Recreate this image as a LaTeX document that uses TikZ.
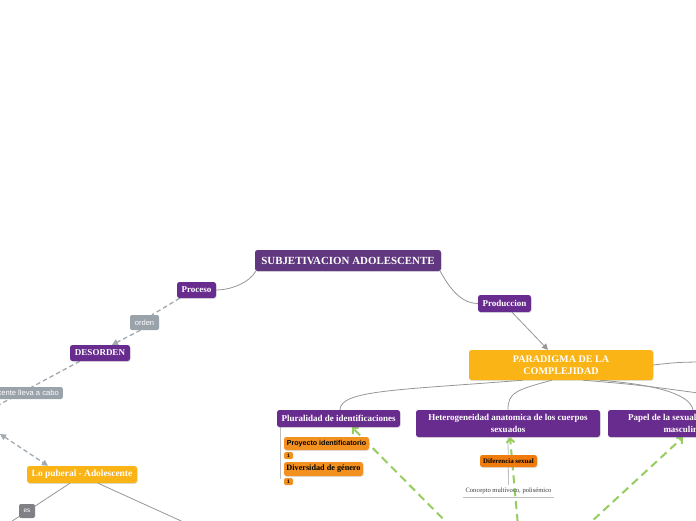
\documentclass[tikz,border=0pt]{standalone}
\usepackage{fontspec}
\setmainfont{Liberation Serif}
\setsansfont{Liberation Sans}
\usetikzlibrary{arrows.meta,shadows,backgrounds}
\definecolor{subjc}{RGB}{97,56,128}
\definecolor{purp}{RGB}{104,44,142}
\definecolor{amber}{RGB}{250,180,22}
\definecolor{orng}{RGB}{243,145,32}
\definecolor{orng2}{RGB}{240,124,14}
\definecolor{lblgray}{RGB}{154,162,170}
\definecolor{esgray}{RGB}{128,128,134}
\definecolor{linegray}{RGB}{150,150,150}
\definecolor{dashgray}{RGB}{160,168,176}
\definecolor{grn}{RGB}{150,205,95}
\definecolor{txtgray}{RGB}{60,60,60}
\begin{document}
\begin{tikzpicture}[x=1pt,y=-1pt,
  box/.style={rounded corners=2.5pt, inner sep=0pt, align=center,
    drop shadow={shadow xshift=0.6pt,shadow yshift=-0.9pt,opacity=0.25}},
  topic/.style={box, fill=purp, text=white, font=\bfseries\fontsize{9}{12}\selectfont},
  mainbox/.style={box, fill=amber, text=white, font=\bfseries\fontsize{10.1}{12.5}\selectfont},
  lbl/.style={rounded corners=2pt, fill=lblgray, text=white, inner sep=0pt,
    font=\sffamily\fontsize{7.6}{9}\selectfont},
  subbox/.style={box, fill=orng, text=black},
  badge/.style={rounded corners=1.5pt, fill=orng, text=black, inner sep=0pt,
    minimum width=9pt, minimum height=7pt, font=\sffamily\bfseries\fontsize{5}{5}\selectfont},
  conn/.style={draw=linegray, line width=0.8pt},
  dconn/.style={draw=dashgray, line width=1.3pt, dash pattern=on 4.5pt off 3pt},
  gconn/.style={draw=grn, line width=2pt, dash pattern=on 8pt off 5pt},
  gtip/.style={-{Straight Barb[length=4pt,width=8pt]}},
  ttip/.style={-{Triangle[length=6pt,width=6pt]}}
]
\useasboundingbox (0,0) rectangle (696,520);
\clip (0,0) rectangle (696,520);

% nodes
\node[box, fill=subjc, text=white, font=\bfseries\fontsize{10.9}{12}\selectfont,
  minimum width=186pt, minimum height=21pt] (subj) at (348,260.5) {SUBJETIVACION ADOLESCENTE};
\node[topic, minimum width=39pt, minimum height=16pt] (proceso) at (196.5,290) {Proceso};
\node[topic, minimum width=53pt, minimum height=17pt] (produccion) at (504.5,303.5) {Produccion};
\node[lbl, minimum width=29pt, minimum height=15pt] (orden) at (144.5,322.5) {orden};
\node[topic, minimum width=60pt, minimum height=16pt] (desorden) at (100,353) {DESORDEN};
\node[lbl, anchor=east, minimum height=12pt, inner xsep=4pt] (lleva) at (63,393) {cente lleva a cabo};
\node[mainbox, font=\bfseries\fontsize{9.4}{11}\selectfont, minimum width=110pt, minimum height=17pt]
  (puberal) at (82,474.5) {Lo puberal - Adolescente};
\node[rounded corners=2pt, fill=esgray, text=white, inner sep=0pt, minimum width=16pt,
  minimum height=14pt, font=\sffamily\fontsize{6.5}{8}\selectfont] (es) at (27,511) {es};
\node[mainbox, minimum width=184pt, minimum height=30pt] (paradigma) at (561,365)
  {PARADIGMA DE LA\\COMPLEJIDAD};
\node[topic, minimum width=123pt, minimum height=17pt] (plural) at (338.5,418.5)
  {Pluralidad de identificaciones};
\node[topic, minimum width=184pt, minimum height=27pt] (hetero) at (508,423.5)
  {Heterogeneidad anatomica de los cuerpos\\sexuados};
\node[topic, minimum width=170pt, minimum height=27pt] (papel) at (693,423.5)
  {Papel de la sexualidad femenina y\\masculinidades};
\node[subbox, minimum width=85pt, minimum height=13pt, font=\sffamily\bfseries\fontsize{7.1}{8}\selectfont]
  (proyecto) at (326.5,443.5) {Proyecto identificatorio};
\node[badge] (b1) at (288.5,455.5) {1};
\node[subbox, minimum width=79pt, minimum height=14pt, font=\bfseries\fontsize{8.2}{9}\selectfont]
  (diversidad) at (323.5,469) {Diversidad de género};
\node[badge] (b2) at (288.5,481.5) {1};
\node[subbox, fill=orng2, minimum width=57pt, minimum height=12pt, font=\bfseries\fontsize{6.9}{8}\selectfont]
  (diferencia) at (508.5,461) {Diferencia sexual};
\node[inner sep=0pt, minimum width=91pt, minimum height=12pt, text=txtgray,
  font=\fontsize{6.6}{8}\selectfont] (concepto) at (508.5,491) {Concepto multívoco, polisémico};

% free ends
\coordinate (offL) at (-20,415);
\coordinate (offL2) at (0,434);
\coordinate (offB1) at (0,529);
\coordinate (offB2) at (190,525);
\coordinate (offR1) at (720,396);
\coordinate (offR2) at (720,362);
\coordinate (gA) at (470,546);
\coordinate (gB) at (520,548);
\coordinate (gC) at (565,546);

\begin{scope}[on background layer]
\clip (0,0) rectangle (696,520);
\draw[conn] ([xshift=1pt]subj.south west) .. controls +(-7,12) and +(14,0) .. (proceso.east);
\draw[conn] ([xshift=-1pt]subj.south east) .. controls +(12,22) and +(-14,0) .. (produccion.west);
\draw[conn, ttip] ([xshift=7.5pt]produccion.south) -- ([xshift=-13pt]paradigma.north);
\draw[dconn] ([xshift=3pt]proceso.south west) -- ([xshift=7.5pt]orden.north);
\draw[dconn, ttip] ([xshift=-4pt]orden.south) -- ([xshift=12pt]desorden.north);
\draw[dconn] ([xshift=10pt]desorden.south west) -- (offL);
\draw[dconn, {Triangle[length=6pt,width=6pt]}-{Triangle[length=6pt,width=6pt]}] (offL2) -- ([xshift=-34pt]puberal.north);
\draw[conn] ([xshift=-12pt]puberal.south) -- (offB1);
\draw[conn] ([xshift=16pt]puberal.south) -- (offB2);
\draw[conn] ([xshift=-38pt]paradigma.south) .. controls (400,390) and (340,390) .. ([xshift=1.5pt]plural.north);
\draw[conn] ([xshift=-9pt]paradigma.south) .. controls (515,390) and (508,393) .. (hetero.north);
\draw[conn] ([xshift=39pt]paradigma.south) .. controls (660,385) and (690,395) .. (papel.north);
\draw[conn] ([xshift=22pt]paradigma.south) .. controls (640,385) .. (offR1);
\draw[conn] (paradigma.east) .. controls (680,362) .. (offR2);
\draw[draw=lightgray, line width=0.8pt] ([xshift=4pt]plural.south west) -- ++(0,52);
\draw[draw=lightgray, line width=0.8pt] (hetero.south) -- (concepto.north);
\draw[draw=lightgray, line width=0.8pt] (concepto.south west) -- (concepto.south east);
% green dashed arrows (under the boxes)
\draw[gconn, gtip] (gA) -- ([xshift=13.5pt]plural.south);
\draw[gconn, gtip] (gB) -- ([xshift=2pt]hetero.south);
\draw[gconn, gtip] (gC) -- ([xshift=-10pt]papel.south);
\end{scope}
\end{tikzpicture}
\end{document}
